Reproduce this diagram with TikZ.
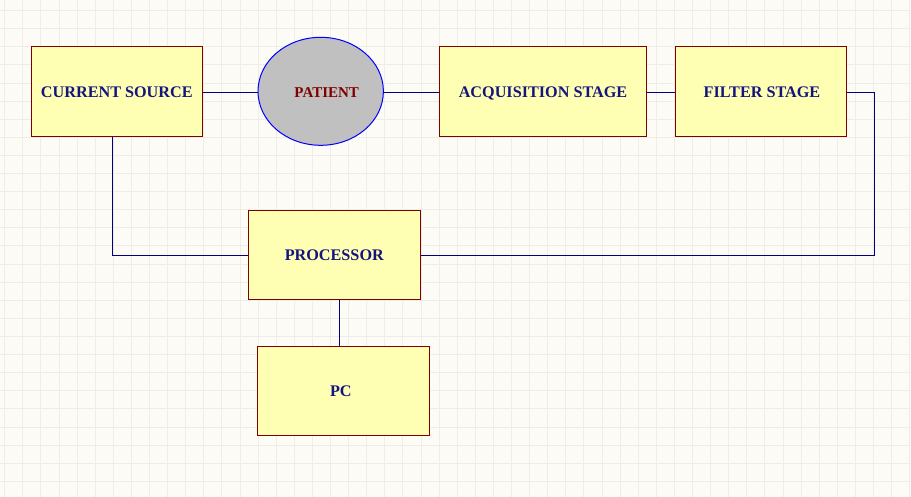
\documentclass[tikz,border=0pt]{standalone}
\usepackage{fontspec}
\setmainfont{Liberation Serif}
\usetikzlibrary{calc,shapes.geometric}
\definecolor{bgc}{HTML}{FDFBF6}
\definecolor{gridc}{HTML}{EFEDE7}
\definecolor{boxfill}{HTML}{FFFFB4}
\definecolor{boxline}{HTML}{800000}
\definecolor{txtc}{HTML}{14147F}
\definecolor{wirec}{HTML}{000080}
\definecolor{ellline}{HTML}{0000FF}
\definecolor{ellfill}{HTML}{C0C0C0}
\definecolor{pattxt}{HTML}{800000}
\tikzset{
  blockbox/.style={draw=boxline, fill=boxfill, line width=1pt, inner sep=0pt,
    text=txtc, font=\fontsize{16.2}{16}\selectfont\bfseries, align=center, text depth=0pt},
  wire/.style={draw=wirec, line width=1pt},
}
\newcommand{\lowertxt}[1]{\raisebox{-1.2pt}{#1}}
\begin{document}
\begin{tikzpicture}[x=1pt,y=-1pt]
\fill[bgc] (0,0) rectangle (911,497);
\useasboundingbox (0,0) rectangle (911,497);
\foreach \k in {0,...,50} {\draw[gridc, line width=1pt] ({4.7+18.1*\k},0) -- ({4.7+18.1*\k},497);}
\foreach \k in {0,...,26} {\draw[gridc, line width=1pt] (0,{10.7+18.1*\k}) -- (911,{10.7+18.1*\k});}

\node[blockbox, minimum width=171pt, minimum height=90pt] (cs) at (116.8,91.3) {\lowertxt{CURRENT SOURCE}};
\node[draw=ellline, fill=ellfill, line width=1pt, ellipse, minimum width=125.4pt, minimum height=108pt, inner sep=0pt] (pat) at (320.7,91.3) {};
\node[text=pattxt, font=\fontsize{15}{15}\selectfont\bfseries, inner sep=0pt, text depth=0pt] (pattext) at (326.7,92.6) {PATIENT};
\node[blockbox, minimum width=206.6pt, minimum height=90pt] (acq) at (543,91.3) {\lowertxt{ACQUISITION STAGE}};
\node[blockbox, minimum width=170.6pt, minimum height=90pt] (flt) at (761,91.3) {\lowertxt{\hspace*{2pt}FILTER STAGE}};
\node[blockbox, minimum width=172pt, minimum height=89pt] (proc) at (334.3,254.8) {\lowertxt{PROCESSOR}};
\node[blockbox, minimum width=172pt, minimum height=89pt] (pc) at (343.3,390.8) {\lowertxt{\hspace*{-5pt}PC}};

\draw[wire] ([yshift=-1pt]cs.east) -- ([yshift=-1pt]pat.west);
\draw[wire] ([yshift=-1pt]pat.east) -- ([yshift=-1pt]acq.west);
\draw[wire] ([yshift=-1pt]acq.east) -- ([yshift=-1pt]flt.west);
\draw[wire] ([yshift=-1pt]flt.east) -- ++(28,0) |- ([yshift=-0.5pt]proc.east);
\draw[wire] ([xshift=-4.5pt]cs.south) |- ([yshift=-0.5pt]proc.west);
\draw[wire] ([xshift=5pt]proc.south) -- ([xshift=5pt]proc.south |- pc.north);
\end{tikzpicture}
\end{document}
